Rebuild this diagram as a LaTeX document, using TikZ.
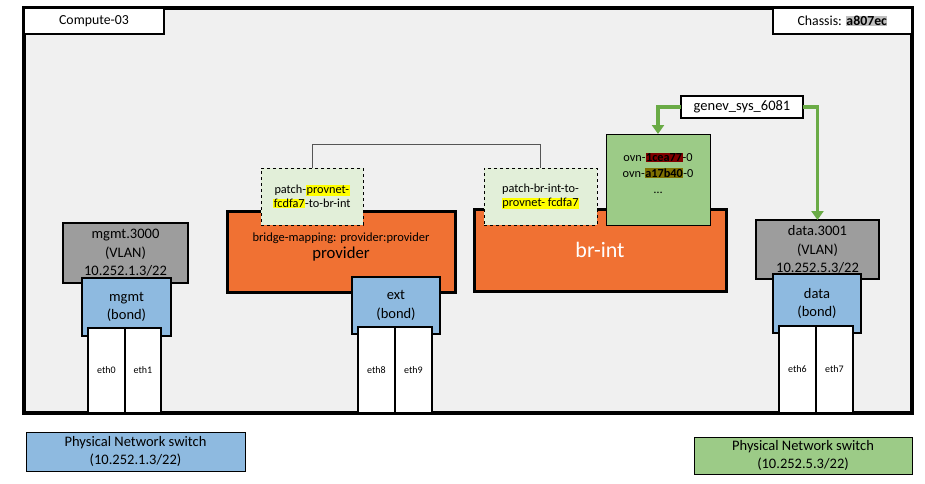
\documentclass[tikz,border=0pt]{standalone}
\usepackage{fontspec}
\setmainfont{Carlito}
\usetikzlibrary{arrows.meta}
\definecolor{framefill}{HTML}{F0F0F0}
\definecolor{orangefill}{HTML}{F07133}
\definecolor{patchfill}{HTML}{E2EFD9}
\definecolor{greenfill}{HTML}{9CCB87}
\definecolor{bluefill}{HTML}{8EBAE0}
\definecolor{grayfill}{HTML}{9D9D9D}
\definecolor{arrowgreen}{HTML}{6AAB46}
\definecolor{linegray}{HTML}{555555}
\definecolor{hly}{HTML}{FFFF00}
\definecolor{hlr}{HTML}{800000}
\definecolor{hlo}{HTML}{7F7000}
\definecolor{hlg}{HTML}{BFBFBF}
\newcommand{\hlc}[2]{{\setlength{\fboxsep}{0.4pt}\colorbox{#1}{#2}}}
\begin{document}
\begin{tikzpicture}[x=1pt,y=-1pt,
  every node/.style={inner sep=0pt, outer sep=0pt, align=center},
  mainfont/.style={font=\fontsize{14.5}{18.5}\selectfont},
  smallfont/.style={font=\fontsize{12.3}{14.5}\selectfont},
  framebox/.style={draw, line width=3.3pt, fill=framefill},
  labelbox/.style={draw, line width=2pt, fill=white, font=\fontsize{13.8}{16}\selectfont},
  bridgebox/.style={draw, line width=3pt, fill=orangefill},
  patchbox/.style={draw, dashed, line width=0.8pt, fill=patchfill, smallfont},
  ovnbox/.style={draw, line width=1pt, fill=greenfill},
  genevbox/.style={draw, line width=1.6pt, fill=white, mainfont},
  vlanbox/.style={draw, line width=2pt, fill=grayfill, mainfont},
  bondbox/.style={draw, line width=2pt, fill=bluefill, mainfont},
  ethbox/.style={draw, line width=2pt, fill=white, font=\fontsize{10}{12}\selectfont},
  physbox/.style={draw, line width=1pt, mainfont},
  patchline/.style={draw=linegray, line width=1pt},
  greenarrow/.style={draw=arrowgreen, line width=3.6pt, -{Triangle[length=9pt,width=12pt]}}
]
\useasboundingbox (0,0) rectangle (925,483);

% host frame
\node[framebox, minimum width=888, minimum height=405] (frame) at (468,210.5) {};
\node[labelbox, minimum width=140, minimum height=26] (compute) at (94,21) {Compute-03};
\node[labelbox, minimum width=139, minimum height=26] (chassis) at (842.5,21) {Chassis: \hlc{hlg}{\textbf{a807ec}}};

% bridges
\node[bridgebox, minimum width=228, minimum height=81] (provider) at (341,251.5) {};
\node[font=\fontsize{12.5}{17}\selectfont] (provtext) at (341,246.5) {bridge-mapping: provider:provider\\{\fontsize{16.7}{18}\selectfont provider}};
\node[bridgebox, minimum width=252, minimum height=82, text=white, font=\fontsize{22}{24}\selectfont] (brint) at (600,250) {br-int};

% patch ports
\node[patchbox, minimum width=102, minimum height=57] (patch1) at (312,196.5) {patch-\hlc{hly}{provnet-}\\\hlc{hly}{fcdfa7}-to-br-int};
\node[patchbox, minimum width=113, minimum height=57] (patch2) at (540.5,196.5) {patch-br-int-to-\\\hlc{hly}{provnet- fcdfa7}};
\draw[patchline] (patch1.north) -- ++(0,-24) -| (patch2.north);

% tunnel ports
\node[ovnbox, minimum width=104, minimum height=91] (ovn) at (658,179.5) {};
\node[font=\fontsize{12.3}{16}\selectfont] (ovntext) at (658,173) {ovn-\hlc{hlr}{\textbf{1cea77}}-0\\ovn-\hlc{hlo}{\textbf{a17b40}}-0\\…};
\node[genevbox, minimum width=122, minimum height=22] (genev) at (742,107) {genev\_sys\_6081};

% mgmt
\node[vlanbox, minimum width=125, minimum height=60] (mgmtvlan) at (125.5,253) {mgmt.3000\\(VLAN)\\10.252.1.3/22};
\node[bondbox, minimum width=89, minimum height=58] (mgmtbond) at (126.5,307) {mgmt\\(bond)};
\node[ethbox, minimum width=37, minimum height=85] (eth0) at (106.5,370.5) {eth0};
\node[ethbox, minimum width=36, minimum height=85] (eth1) at (143,370.5) {eth1};

% ext
\node[bondbox, minimum width=88, minimum height=57] (extbond) at (396,305.5) {ext\\(bond)};
\node[ethbox, minimum width=37, minimum height=86] (eth8) at (376.5,370) {eth8};
\node[ethbox, minimum width=37, minimum height=86] (eth9) at (413.5,370) {eth9};

% data
\node[vlanbox, minimum width=123, minimum height=59] (datavlan) at (817.5,249.5) {data.3001\\(VLAN)\\10.252.5.3/22};
\node[bondbox, minimum width=88, minimum height=59] (databond) at (817,303.5) {data\\(bond)};
\node[ethbox, minimum width=37, minimum height=87] (eth6) at (797.5,369.5) {eth6};
\node[ethbox, minimum width=37, minimum height=87] (eth7) at (834.5,369.5) {eth7};

% tunnel arrows
\draw[greenarrow] (genev.west) -| (ovn.north);
\draw[greenarrow] (genev.east) -| (datavlan.north);

% physical switches
\node[physbox, fill=bluefill, minimum width=219, minimum height=39] (physleft) at (135.5,451.5) {Physical Network switch\\(10.252.1.3/22)};
\node[physbox, fill=greenfill, minimum width=218, minimum height=37] (physright) at (803,455.5) {Physical Network switch\\(10.252.5.3/22)};
\end{tikzpicture}
\end{document}
